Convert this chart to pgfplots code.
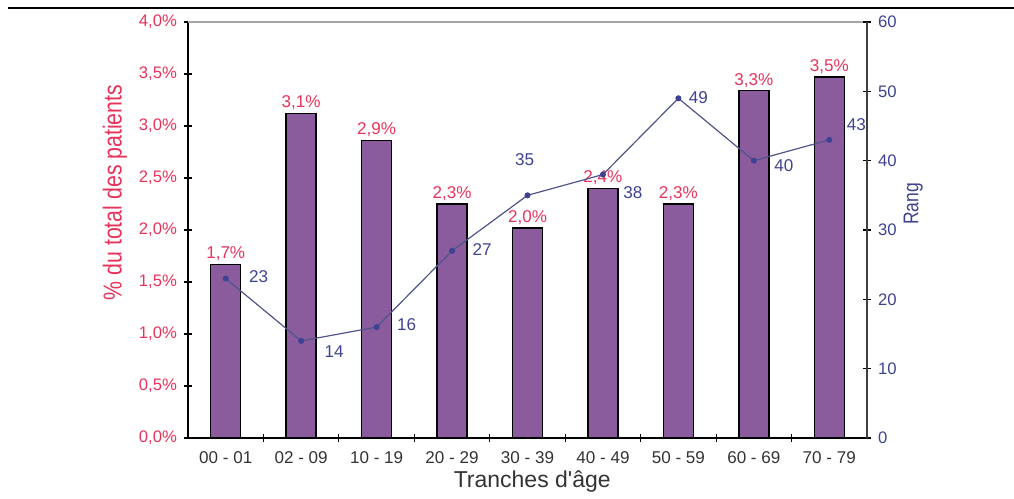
\documentclass[border=0pt]{standalone}
\usepackage{pgfplots}
\pgfplotsset{compat=1.18}
\usepackage{pgfplotstable}
\usepackage{fontspec}
\setmainfont{Liberation Sans}[Ligatures=TeXOff]
\newfontfamily\narrowfont[FakeStretch=0.82]{Liberation Sans}

\definecolor{barfill}{HTML}{8A5C9E}
\definecolor{redlab}{HTML}{E8335A}
\definecolor{bluelab}{HTML}{3E4391}
\definecolor{linecol}{HTML}{50548A}
\definecolor{darktxt}{HTML}{333333}

% bars: height, printed label
\pgfplotstableread{
x  y     lab
0  1.67  1.7
1  3.12  3.1
2  2.86  2.9
3  2.25  2.3
4  2.02  2.0
5  2.40  2.4
6  2.25  2.3
7  3.34  3.3
8  3.47  3.5
}\barsdata

% rang, with label offsets in px
\pgfplotstableread{
x  y   dx  dy
0  23  33   2
1  14  33 -11
2  16  30   2
3  27  30   1
4  35  -3  36
5  38  30 -18
6  49  20   1
7  40  30  -5
8  43  27  15
}\rangdata

\begin{document}
\begin{tikzpicture}
\pgfplotsset{/pgf/number format/assume math mode=true}
\path[use as bounding box] (0,0) rectangle (760.5pt,-374.25pt);
% table borders at the top
\draw[line width=0.8pt] (67.5pt,-6pt) -- (705pt,-6pt);
\draw[line width=1.6pt] (6pt,-6pt) -- (67.5pt,-6pt);
\draw[line width=1.6pt] (705pt,-6pt) -- (760.5pt,-6pt);

\begin{axis}[
  at={(141pt,-328.5pt)}, anchor=south west,
  scale only axis, width=509.25pt, height=312pt,
  xmin=-0.5, xmax=8.5, ymin=0, ymax=4,
  axis x line*=bottom, axis y line*=left,
  axis line style={black, line width=0.9pt},
  xtick={0,...,8},
  xticklabels={00 - 01,02 - 09,10 - 19,20 - 29,30 - 39,40 - 49,50 - 59,60 - 69,70 - 79},
  major x tick style={draw=none},
  minor xtick={0.5,1.5,...,7.5},
  minor tick length=5.5pt,
  minor x tick style={black, line width=0.9pt},
  xticklabel style={font=\fontsize{12.8}{14}\selectfont, text=darktxt, yshift=-4pt},
  ytick={0,0.5,...,4},
  yticklabels={{0,0\%},{0,5\%},{1,0\%},{1,5\%},{2,0\%},{2,5\%},{3,0\%},{3,5\%},{4,0\%}},
  yticklabel style={font=\fontsize{12.5}{14}\selectfont, text=redlab, xshift=-2pt},
  tick align=center, major tick length=5.5pt,
  major y tick style={black, line width=0.9pt},
  xlabel={Tranches d'âge},
  xlabel style={font=\fontsize{17.25}{20}\selectfont, text=darktxt, at={(axis description cs:0.507,-0.105)}, anchor=center},
  ylabel={\narrowfont \% du total des patients},
  ylabel style={font=\fontsize{19.5}{22}\selectfont, text=redlab, at={(axis description cs:-0.1075,0.59)}, anchor=center},
  clip=false,
]
\draw[gray!70, line width=0.8pt] (axis description cs:0,1) -- (axis description cs:1,1);
\addplot[ybar, bar width=22.5pt, fill=barfill, draw=black, line width=1.1pt,
  point meta=explicit,
  nodes near coords={\pgfmathprintnumber[fixed,fixed zerofill,precision=1,use comma]{\pgfplotspointmeta}\%},
  every node near coord/.append style={font=\fontsize{12.8}{14}\selectfont, text=redlab, inner sep=2pt}]
  table[x=x, y=y, meta=lab] {\barsdata};
\end{axis}

\begin{axis}[
  at={(141pt,-328.5pt)}, anchor=south west,
  scale only axis, width=509.25pt, height=312pt,
  xmin=-0.5, xmax=8.5, ymin=0, ymax=60,
  axis x line=none, axis y line*=right,
  axis line style={black!75, line width=0.9pt},
  ytick={0,10,...,60},
  tick align=center, major tick length=5.5pt,
  major y tick style={black, line width=0.9pt},
  yticklabel style={font=\fontsize{12.5}{14}\selectfont, text=bluelab, xshift=2pt},
  ylabel={\narrowfont Rang},
  ylabel style={font=\fontsize{16}{18}\selectfont, text=bluelab, at={(axis description cs:1.068,0.5625)}, anchor=center, rotate=0},
  clip=false,
]
\addplot[color=linecol, line width=0.9pt, mark=*, mark size=1.8pt,
  mark options={fill=bluelab, draw=bluelab},
  visualization depends on={\thisrow{dx} \as \ldx},
  visualization depends on={\thisrow{dy} \as \ldy},
  point meta=explicit,
  nodes near coords={\pgfmathprintnumber{\pgfplotspointmeta}},
  every node near coord/.append style={font=\fontsize{12.8}{14}\selectfont, text=bluelab, anchor=center, xshift=0.75*\ldx pt, yshift=0.75*\ldy pt}]
  table[x=x, y=y, meta=y] {\rangdata};
\end{axis}
\end{tikzpicture}
\end{document}
